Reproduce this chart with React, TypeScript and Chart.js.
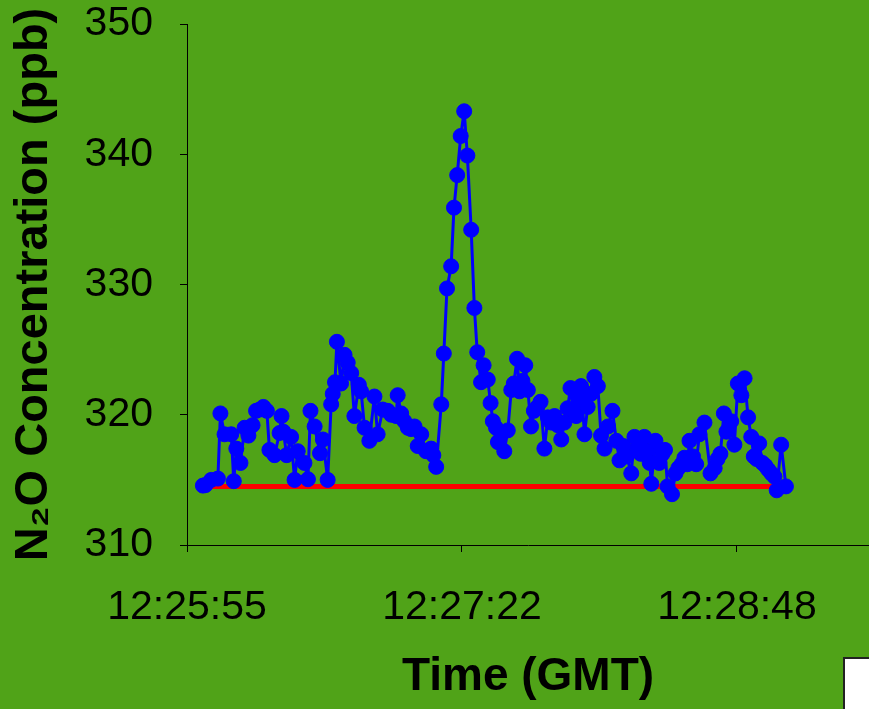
import React, { useEffect, useRef } from 'react';
import { Chart, registerables } from 'chart.js';

Chart.register(...registerables);

// Seconds after 12:25:55 GMT (axis origin) for each sample
const timeOffsetsSec = [
  5.0, 5.8, 7.6, 9.7, 10.5, 11.8, 13.9, 14.7, 15.5, 16.8,
  18.1, 19.3, 20.6, 21.7, 22.8, 24.0, 25.1, 25.9, 27.5, 29.1,
  29.7, 30.3, 31.3, 32.7, 33.8, 34.8, 36.9, 38.0, 38.8, 40.1,
  41.8, 42.7, 44.2, 45.3, 45.8, 46.5, 47.1, 48.4, 49.5, 50.5,
  51.6, 52.6, 54.0, 54.7, 55.8, 57.3, 58.9, 59.9, 61.5, 63.1,
  64.2, 65.7, 66.2, 67.3, 68.3, 69.4, 70.4, 71.5, 72.5, 73.6,
  75.1, 76.7, 77.4, 78.3, 79.9, 80.7, 81.7, 83.0, 83.9, 84.9,
  86.0, 87.1, 88.1, 89.3, 90.3, 91.2, 92.4, 93.2, 94.5, 95.4,
  96.1, 97.1, 97.7, 98.8, 99.7, 100.8, 101.9, 102.7, 103.7, 104.5,
  105.4, 106.3, 107.1, 108.1, 109.0, 110.1, 111.1, 112.3, 113.4, 114.4,
  115.5, 116.5, 117.6, 118.6, 119.6, 120.5, 121.4, 122.3, 123.1, 123.8,
  124.9, 125.9, 126.9, 128.0, 129.1, 130.1, 131.2, 132.3, 133.7, 134.9,
  135.9, 137.1, 138.2, 139.6, 140.6, 141.6, 142.6, 143.7, 144.6, 145.4,
  145.9, 147.2, 148.4, 149.4, 150.2, 151.0, 152.4, 153.5, 154.4, 155.4,
  156.3, 157.2, 157.9, 159.0, 160.0, 161.0, 162.6, 164.5, 165.8, 166.7,
  167.6, 168.7, 169.5, 171.0, 172.0, 173.1, 174.2, 175.2, 176.3, 177.3,
  178.1, 179.0, 179.8, 180.8, 181.7, 182.6, 183.6, 184.6, 185.3, 186.7,
  188.2,
];

// N2O concentration (ppb)
const n2oPpb = [
  314.56, 314.6, 315.0, 315.1, 320.1, 318.5, 318.5, 314.9, 317.4, 316.3,
  319.0, 318.4, 319.2, 320.3, 320.4, 320.6, 320.3, 317.3, 316.9, 318.6,
  319.9, 318.7, 316.9, 318.3, 315.0, 317.2, 316.3, 315.05, 320.3, 319.1,
  317.05, 318.1, 315.0, 320.8, 321.6, 322.5, 325.6, 322.4, 324.6, 324.0,
  323.2, 319.9, 322.3, 321.8, 319.0, 318.0, 321.4, 318.5, 320.4, 320.3,
  320.0, 319.9, 321.5, 320.1, 319.5, 319.0, 318.9, 319.1, 317.6, 318.5,
  317.2, 317.4, 316.9, 316.0, 320.8, 324.7, 329.7, 331.4, 335.9, 338.4,
  341.4, 343.3, 339.9, 334.2, 328.2, 324.8, 322.5, 323.8, 322.7, 320.9,
  319.5, 319.0, 317.9, 318.5, 317.2, 318.8, 321.9, 322.4, 324.3, 321.8,
  322.6, 323.8, 321.9, 319.1, 320.3, 320.6, 321.0, 317.4, 319.8, 319.4,
  319.9, 319.2, 318.1, 319.4, 320.5, 322.05, 320.4, 319.9, 321.2, 322.2,
  318.5, 320.6, 321.6, 322.9, 322.2, 318.4, 317.4, 319.1, 320.3, 318.0,
  316.5, 317.6, 316.8, 315.5, 318.3, 317.4, 317.0, 318.3, 317.2, 316.3,
  314.7, 318.0, 316.3, 317.0, 317.3, 314.5, 313.9, 315.5, 315.9, 316.2,
  316.7, 316.2, 318.0, 316.8, 316.2, 318.5, 319.4, 315.5, 315.9, 316.6,
  317.0, 320.1, 318.7, 319.5, 317.7, 322.4, 321.5, 322.8, 319.8, 318.3,
  316.8, 316.6, 317.8, 316.3, 316.1, 315.8, 315.5, 315.25, 314.2, 317.7,
  314.5,
];

// Background (baseline) level, red line
const baselineTimes = [5.0, 185.3];
const baselineValues = [314.5, 314.5];

// x axis ticks (seconds after 12:25:55) and their labels
const xTickSeconds = [0, 86.4, 172.8];
const xTickLabels = ['12:25:55', '12:27:22', '12:28:48'];

const GREEN = '#50a318';
const FONT = "'Liberation Sans', Arial, sans-serif";

export default function App() {
  const ref = useRef<HTMLCanvasElement | null>(null);

  useEffect(() => {
    document.body.style.margin = '0';
    const bgPlugin = {
      id: 'bgfill',
      beforeDraw(chart: any) {
        const { ctx, width, height } = chart;
        ctx.save();
        ctx.fillStyle = GREEN;
        ctx.fillRect(0, 0, width, height);
        ctx.restore();
      },
    };
    const axisGrid = {
      display: true,
      drawOnChartArea: false,
      drawTicks: true,
      tickLength: 7,
      color: '#000',
      lineWidth: 1,
    };
    const chart = new Chart(ref.current as HTMLCanvasElement, {
      type: 'line',
      data: {
        datasets: [
          {
            data: timeOffsetsSec.map((x, i) => ({ x, y: n2oPpb[i] })),
            borderColor: '#0000ff',
            backgroundColor: '#0000ff',
            borderWidth: 3,
            borderJoinStyle: 'round',
            pointRadius: 7.5,
            pointBorderWidth: 1,
            pointBackgroundColor: '#0000ff',
            pointBorderColor: '#0000ff',
            tension: 0,
            order: 0,
          },
          {
            data: baselineTimes.map((x, i) => ({ x, y: baselineValues[i] })),
            borderColor: '#ff0000',
            backgroundColor: '#ff0000',
            borderWidth: 5,
            pointRadius: 0,
            tension: 0,
            order: 1,
          },
        ],
      },
      options: {
        responsive: false,
        maintainAspectRatio: false,
        animation: false,
        layout: { autoPadding: false, padding: { top: 24, right: 0, bottom: 0, left: 0 } },
        plugins: {
          legend: { display: false },
          tooltip: { enabled: false },
        },
        scales: {
          x: {
            type: 'linear',
            min: 0,
            max: 214.3,
            afterBuildTicks: (s: any) => {
              s.ticks = xTickSeconds.map((v) => ({ value: v }));
            },
            afterFit: (s: any) => {
              s.height = 164;
              s.paddingLeft = 0;
              s.paddingRight = 0;
            },
            ticks: {
              callback: (v: any) => xTickLabels[xTickSeconds.indexOf(v)] ?? '',
              font: { family: FONT, size: 41, lineHeight: 1.2 },
              color: '#000',
              padding: 31,
              maxRotation: 0,
              autoSkip: false,
            },
            grid: axisGrid,
            border: { display: true, color: '#000', width: 1 },
            title: {
              display: true,
              text: 'Time (GMT)',
              font: { family: FONT, size: 46, weight: 'bold', lineHeight: 1.2 },
              color: '#000',
              padding: { top: 0, bottom: 4 },
            },
          },
          y: {
            type: 'linear',
            min: 310,
            max: 350,
            afterFit: (s: any) => {
              s.width = 187;
              s.paddingTop = 0;
              s.paddingBottom = 0;
            },
            ticks: {
              stepSize: 10,
              font: { family: FONT, size: 41, lineHeight: 1.0 },
              color: '#000',
              padding: 27,
            },
            grid: axisGrid,
            border: { display: true, color: '#000', width: 1 },
            title: {
              display: true,
              text: 'N₂O Concentration (ppb)',
              font: { family: FONT, size: 47, weight: 'bold', lineHeight: 1.2 },
              color: '#000',
              padding: { top: 6, bottom: 0 },
            },
          },
        },
      },
      plugins: [bgPlugin],
    } as any);
    return () => chart.destroy();
  }, []);

  return (
    <div style={{ position: 'fixed', left: 0, top: 0, width: 869, height: 709, overflow: 'hidden', background: GREEN }}>
      <canvas ref={ref} width={869} height={709} style={{ display: 'block' }} />
      <div
        style={{
          position: 'absolute',
          left: 843,
          top: 657,
          width: 60,
          height: 80,
          background: '#ffffff',
          borderLeft: '2px solid #222',
          borderTop: '2px solid #222',
        }}
      />
    </div>
  );
}
